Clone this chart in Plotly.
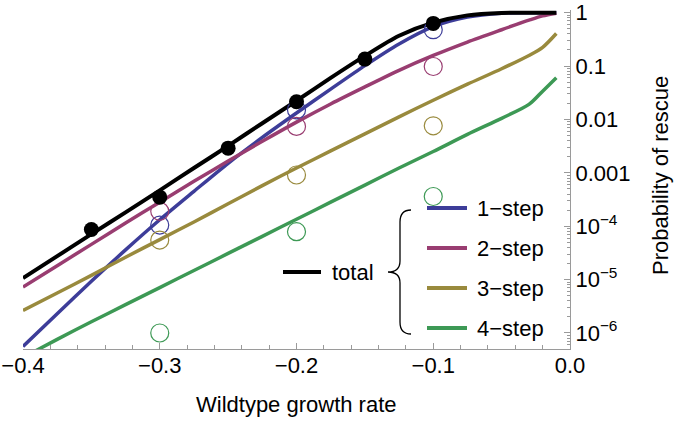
import plotly.graph_objects as go

# ---------------- data ----------------
growth = [-0.4, -0.375, -0.35, -0.325, -0.3, -0.275, -0.25, -0.225, -0.2,
          -0.175, -0.15, -0.125, -0.1, -0.075, -0.05, -0.03, -0.02, -0.01]

p_total = [1.07e-5, 2.75e-5, 7.1e-5, 1.82e-4, 4.7e-4, 1.23e-3, 3.2e-3, 8.5e-3,
           0.0224, 0.060, 0.155, 0.37, 0.65, 0.89, 0.99, 1.0, 1.0, 1.0]
p_1step = [5.6e-7, 2.3e-6, 9.3e-6, 3.6e-5, 1.32e-4, 4.5e-4, 1.51e-3, 4.6e-3,
           0.0132, 0.037, 0.102, 0.26, 0.55, 0.83, 0.98, 1.0, 1.0, 1.0]
p_2step = [7.24e-6, 1.82e-5, 4.57e-5, 1.15e-4, 2.82e-4, 6.92e-4, 1.66e-3, 3.89e-3,
           8.91e-3, 0.0195, 0.0407, 0.0832, 0.158, 0.282, 0.479, 0.724, 0.871, 0.977]
p_3step = [2.63e-6, 5.62e-6, 1.20e-5, 2.63e-5, 5.62e-5, 1.20e-4, 2.63e-4, 5.75e-4,
           1.23e-3, 2.57e-3, 5.37e-3, 0.0112, 0.0229, 0.0457, 0.0891, 0.158, 0.224, 0.407]
p_4step = [3.47e-7, 7.59e-7, 1.62e-6, 3.39e-6, 7.08e-6, 1.48e-5, 3.09e-5, 6.46e-5,
           1.35e-4, 2.82e-4, 5.89e-4, 1.23e-3, 2.51e-3, 5.25e-3, 0.0105, 0.0191, 0.0339, 0.0603]

sim_growth = [-0.3, -0.2, -0.1]
sim_1step = [1.05e-4, 0.0151, 0.48]
sim_2step = [1.9e-4, 7.4e-3, 0.098]
sim_3step = [5.5e-5, 9.1e-4, 7.6e-3]
sim_4step = [1.0e-6, 7.9e-5, 3.6e-4]

sim_total_growth = [-0.35, -0.3, -0.25, -0.2, -0.15, -0.1]
sim_total = [8.7e-5, 3.5e-4, 2.9e-3, 0.0214, 0.135, 0.63]

x_tick_vals = [-0.4, -0.3, -0.2, -0.1, 0.0]
x_tick_text = ["\u22120.4", "\u22120.3", "\u22120.2", "\u22120.1", "0.0"]
y_tick_vals = [1e-6, 1e-5, 1e-4, 1e-3, 1e-2, 1e-1, 1]
y_tick_text = ["10<sup>\u22126</sup>", "10<sup>\u22125</sup>", "10<sup>\u22124</sup>",
               "0.001", "0.01", "0.1", "1"]

series_names = ["1\u2212step", "2\u2212step", "3\u2212step", "4\u2212step"]
# --------------------------------------

COLORS = ["#3d3d99", "#993d71", "#998a3d", "#3d9955"]
FONT = "Liberation Sans, Arial, Helvetica, sans-serif"
FS = 22

W, H = 677, 422
PL, PR, PT, PB = 23, 570, 10, 349


def px(xp):
    return (xp - PL) / (PR - PL)


def py(yp):
    return (PB - yp) / (PB - PT)


fig = go.Figure()

curves = [p_1step, p_2step, p_3step, p_4step]
sims = [sim_1step, sim_2step, sim_3step, sim_4step]

for vals, col in zip(curves, COLORS):
    fig.add_trace(go.Scatter(x=growth, y=vals, mode="lines",
                             line=dict(color=col, width=3.5, shape="spline", smoothing=0.8),
                             showlegend=False))
fig.add_trace(go.Scatter(x=growth, y=p_total, mode="lines",
                         line=dict(color="black", width=4, shape="spline", smoothing=0.8),
                         showlegend=False))
for vals, col in zip(sims, COLORS):
    fig.add_trace(go.Scatter(x=sim_growth, y=vals, mode="markers",
                             marker=dict(symbol="circle-open", size=18,
                                         color=col, line=dict(width=1.2, color=col)),
                             showlegend=False, cliponaxis=False))
fig.add_trace(go.Scatter(x=sim_total_growth, y=sim_total, mode="markers",
                         marker=dict(symbol="circle", size=15, color="black"),
                         showlegend=False, cliponaxis=False))

# minor ticks on log axis
minor_vals = [m * 10.0 ** e for e in range(-7, 1) for m in range(2, 10)]

fig.update_xaxes(range=[-0.4, 0.0], automargin=False,
                 showline=True, linecolor="#9a9a9a", linewidth=1,
                 ticks="inside", ticklen=6, tickcolor="#9a9a9a", tickwidth=1,
                 tickvals=x_tick_vals, ticktext=x_tick_text, ticklabelstandoff=-3,
                 minor=dict(dtick=0.02, tick0=0, ticks="inside", ticklen=4,
                            tickcolor="#9a9a9a", showgrid=False),
                 showgrid=False, zeroline=False,
                 tickfont=dict(family=FONT, size=FS, color="black"))
fig.update_yaxes(type="log", range=[-6.30, 0.05], side="right", automargin=False,
                 showline=True, linecolor="#9a9a9a", linewidth=1,
                 ticks="inside", ticklen=6, tickcolor="#9a9a9a", tickwidth=1,
                 tickvals=y_tick_vals, ticktext=y_tick_text,
                 minor=dict(tickvals=minor_vals, ticks="inside", ticklen=3,
                            tickcolor="#9a9a9a", showgrid=False),
                 showgrid=False, zeroline=False,
                 tickfont=dict(family=FONT, size=FS, color="black"))

shapes = []
annotations = []

# legend samples
leg_y = [208, 248, 288, 328]
for name, col, yy in zip(series_names, COLORS, leg_y):
    shapes.append(dict(type="line", xref="paper", yref="paper",
                       x0=px(427), x1=px(467), y0=py(yy), y1=py(yy),
                       line=dict(color=col, width=4)))
    annotations.append(dict(text=name, xref="paper", yref="paper",
                            x=px(475), y=py(yy), xanchor="left", yanchor="middle",
                            showarrow=False, font=dict(family=FONT, size=FS, color="black")))
shapes.append(dict(type="line", xref="paper", yref="paper",
                   x0=px(283), x1=px(321), y0=py(272), y1=py(272),
                   line=dict(color="black", width=4)))
annotations.append(dict(text="total", xref="paper", yref="paper",
                        x=px(330), y=py(272), xanchor="left", yanchor="middle",
                        showarrow=False, font=dict(family=FONT, size=FS, color="black")))

# curly brace
pts = [("M", [(411, 210)]), ("Q", [(400, 210), (400, 222)]), ("L", [(400, 261)]),
       ("Q", [(400, 272), (388, 272)]), ("Q", [(400, 272), (400, 283)]),
       ("L", [(400, 322)]), ("Q", [(400, 334), (411, 334)])]
path = ""
for cmd, cps in pts:
    path += cmd + " " + " ".join(f"{px(a):.5f},{py(b):.5f}" for a, b in cps) + " "
shapes.append(dict(type="path", xref="paper", yref="paper", path=path.strip(),
                   line=dict(color="black", width=1.3)))

# axis titles
annotations.append(dict(text="Wildtype growth rate", xref="paper", yref="paper",
                        x=0.5, y=py(404), xanchor="center", yanchor="middle",
                        showarrow=False, font=dict(family=FONT, size=FS, color="black")))
annotations.append(dict(text="Probability of rescue", xref="paper", yref="paper",
                        x=px(660), y=py(176), xanchor="center", yanchor="middle",
                        textangle=-90, showarrow=False,
                        font=dict(family=FONT, size=FS, color="black")))

fig.update_layout(width=W, height=H, autosize=False,
                  margin=dict(l=PL, r=W - PR, t=PT, b=H - PB, autoexpand=False),
                  plot_bgcolor="white", paper_bgcolor="white",
                  shapes=shapes, annotations=annotations, showlegend=False)

fig.write_html("out.html", config={"displayModeBar": False},
               post_script="document.body.style.margin='0px';"
                           "document.body.style.overflow='hidden';")
